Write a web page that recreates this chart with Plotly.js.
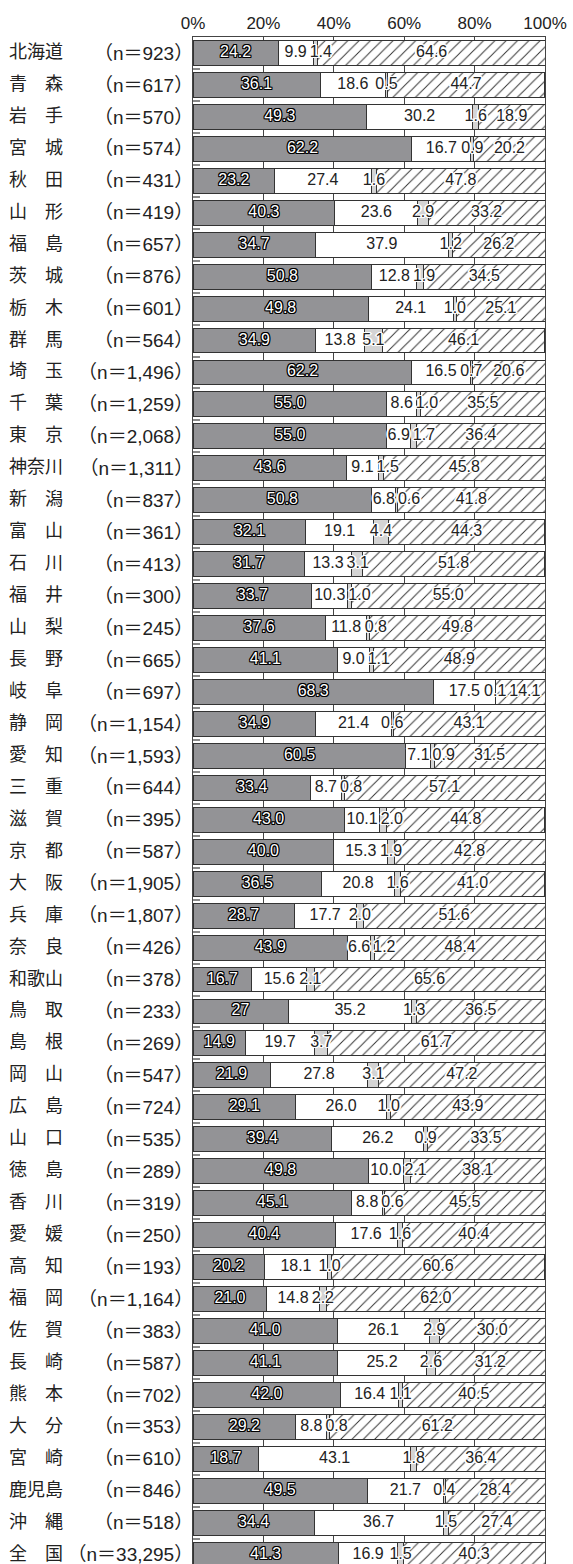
<!DOCTYPE html>
<html>
<head>
<meta charset="utf-8">
<script src="https://cdn.plot.ly/plotly-3.0.1.min.js"></script>
<style>html,body{margin:0;padding:0;background:#fff;}#chart{width:573px;height:1564px;}</style>
</head>
<body>
<div id="chart"></div>
<script>
const names = ['北海道','青　森','岩　手','宮　城','秋　田','山　形','福　島','茨　城','栃　木','群　馬',
  '埼　玉','千　葉','東　京','神奈川','新　潟','富　山','石　川','福　井','山　梨','長　野',
  '岐　阜','静　岡','愛　知','三　重','滋　賀','京　都','大　阪','兵　庫','奈　良','和歌山',
  '鳥　取','島　根','岡　山','広　島','山　口','徳　島','香　川','愛　媛','高　知','福　岡',
  '佐　賀','長　崎','熊　本','大　分','宮　崎','鹿児島','沖　縄','全　国'];
const nLabels = ['923','617','570','574','431','419','657','876','601','564',
  '1,496','1,259','2,068','1,311','837','361','413','300','245','665',
  '697','1,154','1,593','644','395','587','1,905','1,807','426','378',
  '233','269','547','724','535','289','319','250','193','1,164',
  '383','587','702','353','610','846','518','33,295'];
const seg1 = [24.2,36.1,49.3,62.2,23.2,40.3,34.7,50.8,49.8,34.9,
  62.2,55.0,55.0,43.6,50.8,32.1,31.7,33.7,37.6,41.1,
  68.3,34.9,60.5,33.4,43.0,40.0,36.5,28.7,43.9,16.7,
  27,14.9,21.9,29.1,39.4,49.8,45.1,40.4,20.2,21.0,
  41.0,41.1,42.0,29.2,18.7,49.5,34.4,41.3];
const seg2 = [9.9,18.6,30.2,16.7,27.4,23.6,37.9,12.8,24.1,13.8,
  16.5,8.6,6.9,9.1,6.8,19.1,13.3,10.3,11.8,9.0,
  17.5,21.4,7.1,8.7,10.1,15.3,20.8,17.7,6.6,15.6,
  35.2,19.7,27.8,26.0,26.2,10.0,8.8,17.6,18.1,14.8,
  26.1,25.2,16.4,8.8,43.1,21.7,36.7,16.9];
const seg3 = [1.4,0.5,1.6,0.9,1.6,2.9,1.2,1.9,1.0,5.1,
  0.7,1.0,1.7,1.5,0.6,4.4,3.1,1.0,0.8,1.1,
  0.1,0.6,0.9,0.8,2.0,1.9,1.6,2.0,1.2,2.1,
  1.3,3.7,3.1,1.0,0.9,2.1,0.6,1.6,1.0,2.2,
  2.9,2.6,1.1,0.8,1.8,0.4,1.5,1.5];
const seg4 = [64.6,44.7,18.9,20.2,47.8,33.2,26.2,34.5,25.1,46.1,
  20.6,35.5,36.4,45.8,41.8,44.3,51.8,55.0,49.8,48.9,
  14.1,43.1,31.5,57.1,44.8,42.8,41.0,51.6,48.4,65.6,
  36.5,61.7,47.2,43.9,33.5,38.1,45.5,40.4,60.6,62.0,
  30.0,31.2,40.5,61.2,36.4,28.4,27.4,40.3];
const labelOverrides = {0: {30: '27'}};
const xTicks = [0,20,40,60,80,100];

const fmt = (arr, k) => arr.map((v, i) => (labelOverrides[k] && labelOverrides[k][i]) ? labelOverrides[k][i] : v.toFixed(1));
const t1 = fmt(seg1, 0), t2 = fmt(seg2, 1), t3 = fmt(seg3, 2), t4 = fmt(seg4, 3);

const FS = 16;
const PX = 352 / 100; // pixels per percent in the plot area
const textW = s => { let w = 0; for (const ch of s) w += (ch === '.' ? 0.278 : 0.556) * FS; return w / PX; };
const GAP = 3 / PX;

// label centres, computed from the data (stack mid-points, nudged apart when they collide)
const c1 = [], c2 = [], c3 = [], c4 = [];
names.forEach((_, i) => {
  const s1 = seg1[i], e2 = s1 + seg2[i], e3 = e2 + seg3[i];
  let a = s1 / 2, b = s1 + seg2[i] / 2, c = e2 + seg3[i] / 2, d = e3 + seg4[i] / 2;
  const w2 = textW(t2[i]), w3 = textW(t3[i]), w4 = textW(t4[i]);
  if (b + w2 / 2 + GAP > c - w3 / 2) c = b + w2 / 2 + GAP + w3 / 2;
  if (c + w3 / 2 + GAP > d - w4 / 2) d = Math.min(100 - w4 / 2, c + w3 / 2 + GAP + w4 / 2);
  c1.push(a); c2.push(b); c3.push(c); c4.push(d);
});

const blackOutline = '1px 0 0 #000, -1px 0 0 #000, 0 1px 0 #000, 0 -1px 0 #000, 1px 1px 0 #000, -1px -1px 0 #000, 1px -1px 0 #000, -1px 1px 0 #000';
const whiteOutline = '1px 0 0 #fff, -1px 0 0 #fff, 0 1px 0 #fff, 0 -1px 0 #fff, 1px 1px 0 #fff, -1px -1px 0 #fff, 1px -1px 0 #fff, -1px 1px 0 #fff, 2px 0 0 #fff, -2px 0 0 #fff';
const tfam = 'Liberation Sans, Arial, sans-serif';

function barTrace(vals, fill, pattern) {
  const t = {
    type: 'bar', orientation: 'h', y: names, x: vals,
    marker: {color: fill, line: {color: '#333', width: 1}},
    hoverinfo: 'none', showlegend: false
  };
  if (pattern) t.marker.pattern = pattern;
  return t;
}
function textTrace(xs, txt, color, shadow) {
  return {
    type: 'scatter', mode: 'text', y: names, x: xs, text: txt, textposition: 'middle center',
    textfont: {family: tfam, size: FS, color: color, shadow: shadow},
    cliponaxis: false, hoverinfo: 'none', showlegend: false
  };
}

const data = [
  barTrace(seg1, '#939396', null),
  barTrace(seg2, '#ffffff', null),
  barTrace(seg3, '#d4d4d4', null),
  barTrace(seg4, '#ffffff', {shape: '/', size: 8, solidity: 0.12, fgcolor: '#333', bgcolor: '#fff', fillmode: 'replace'}),
  textTrace(c1, t1, '#fff', blackOutline),
  textTrace(c2, t2, '#222', whiteOutline),
  textTrace(c4, t4, '#222', whiteOutline),
  textTrace(c3, t3, '#222', whiteOutline)
];

const rowPitch = 31.95;
const plotTop = 37, H = 1564;
const yBottom = -0.5 + (H - plotTop) / rowPitch;

const annotations = names.map(n => ({
  xref: 'paper', yref: 'y', x: -193/352 + 8/352, y: n, xanchor: 'left', yanchor: 'middle',
  text: n, showarrow: false, font: {family: 'Noto Sans CJK JP', size: 18, color: '#222'}, yshift: 3, borderpad: 0
}));

const layout = {
  width: 573, height: H,
  margin: {l: 193, r: 28, t: plotTop, b: 0, pad: 0},
  barmode: 'stack', bargap: 0.22,
  paper_bgcolor: '#fff', plot_bgcolor: '#fff',
  xaxis: {
    side: 'top', range: [0, 100], tickvals: xTicks, ticktext: xTicks.map(v => v + '%'),
    showgrid: true, gridcolor: '#444', gridwidth: 1, zeroline: false,
    showline: true, linecolor: '#444', linewidth: 1, mirror: true,
    ticks: '', tickfont: {family: tfam, size: 17, color: '#222'},
    fixedrange: true
  },
  yaxis: {
    type: 'category', autorange: false, range: [yBottom, -0.5],
    tickvals: names, ticktext: nLabels.map(s => '（n＝' + s + '）'),
    tickfont: {family: 'Liberation Sans, Noto Sans CJK JP, sans-serif', size: 19, color: '#222'},
    ticks: 'inside', tickson: 'boundaries', ticklen: 7, tickwidth: 2, tickcolor: '#888',
    ticklabelstandoff: -5,
    showgrid: false, zeroline: false, showline: true, linecolor: '#444', linewidth: 1, mirror: true,
    fixedrange: true
  },
  annotations: annotations
};

Plotly.newPlot('chart', data, layout, {displayModeBar: false, staticPlot: true});
</script>
</body>
</html>
